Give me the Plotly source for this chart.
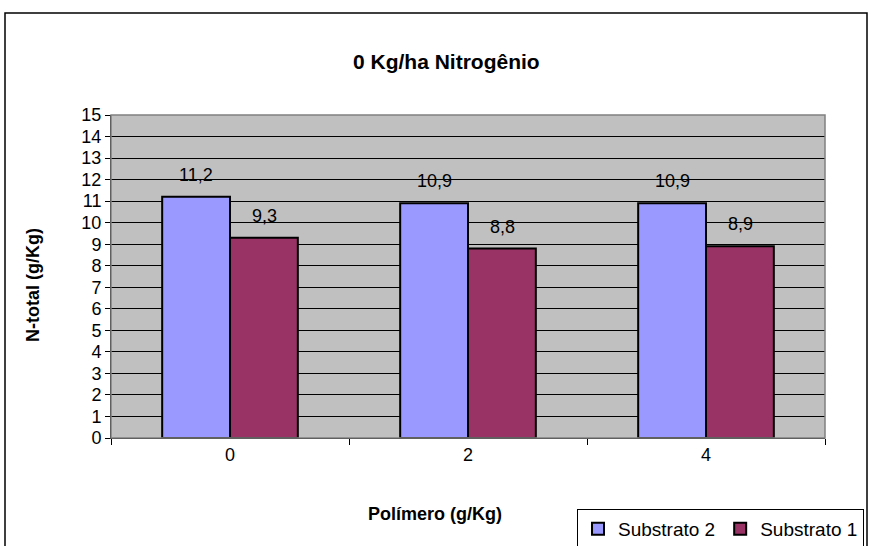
import plotly.graph_objects as go

categories = ["0", "2", "4"]
substrato2 = [11.2, 10.9, 10.9]
substrato1 = [9.3, 8.8, 8.9]
series_names = ["Substrato 2", "Substrato 1"]
y_ticks = list(range(0, 16))

FONT = "Arial, Liberation Sans, sans-serif"
L, R, T, B = 111, 48, 115, 108
W, H = 873, 546
pw = W - L - R
ph = H - T - B

def px_x(px):
    return (px - L) / pw

def px_y(py):
    return (H - B - py) / ph

fig = go.Figure()
fig.add_trace(go.Bar(x=categories, y=substrato2, name=series_names[0],
                     marker=dict(color="#9999FF", line=dict(color="black", width=2))))
fig.add_trace(go.Bar(x=categories, y=substrato1, name=series_names[1],
                     marker=dict(color="#993366", line=dict(color="black", width=2))))

annotations = []
for vals, shift in ((substrato2, -34), (substrato1, 34)):
    for i, v in enumerate(vals):
        annotations.append(dict(x=i, y=v, xref="x", yref="y", xshift=shift, yshift=22,
                                text=f"{v:.1f}".replace(".", ","), showarrow=False,
                                font=dict(family=FONT, size=18, color="black")))

annotations.append(dict(x=px_x(21), y=px_y(285), xref="paper", yref="paper",
                        text="<b>N-total (g/Kg)</b>", textangle=-90, showarrow=False,
                        font=dict(family=FONT, size=18, color="black")))
annotations.append(dict(x=px_x(435), y=px_y(526), xref="paper", yref="paper",
                        text="<b>Polímero (g/Kg)</b>", showarrow=False,
                        font=dict(family=FONT, size=18, color="black")))
annotations.append(dict(x=px_x(446), y=px_y(48), xref="paper", yref="paper",
                        text="<b>0 Kg/ha Nitrogênio</b>", showarrow=False,
                        font=dict(family=FONT, size=21, color="black")))

shapes = [
    dict(type="rect", xref="paper", yref="paper", x0=px_x(5), x1=px_x(867),
         y0=px_y(13), y1=px_y(600), line=dict(color="black", width=1.5)),
    dict(type="rect", xref="paper", yref="paper", x0=0, x1=1, y0=0, y1=1,
         line=dict(color="#808080", width=1.5), layer="above"),
]

fig.update_layout(
    width=W, height=H,
    margin=dict(l=L, r=R, t=T, b=B, autoexpand=False),
    paper_bgcolor="white", plot_bgcolor="#C0C0C0",
    barmode="group", bargap=0.43, bargroupgap=0,
    font=dict(family=FONT, size=18, color="black"),
    showlegend=True,
    legend=dict(orientation="h", x=px_x(864), y=px_y(509), xanchor="right", yanchor="top",
                bordercolor="black", borderwidth=1, bgcolor="white",
                font=dict(family=FONT, size=19, color="black"),
                itemwidth=30, tracegroupgap=0),
    annotations=annotations,
    shapes=shapes,
)
fig.update_xaxes(type="category", range=[-0.5, 2.5], showline=True, linecolor="black", linewidth=1,
                 ticks="outside", tickson="boundaries", ticklen=6, tickcolor="black",
                 showgrid=False, tickfont=dict(family=FONT, size=18))
fig.update_yaxes(range=[0, 15], tickvals=y_ticks, showline=True, linecolor="black",
                 linewidth=1, ticks="outside", ticklen=5, tickcolor="black",
                 showgrid=True, gridcolor="black", gridwidth=1, zeroline=False,
                 tickfont=dict(family=FONT, size=18))

fig.write_html("out.html", config={"displayModeBar": False},
               post_script="document.body.style.margin='0';")
